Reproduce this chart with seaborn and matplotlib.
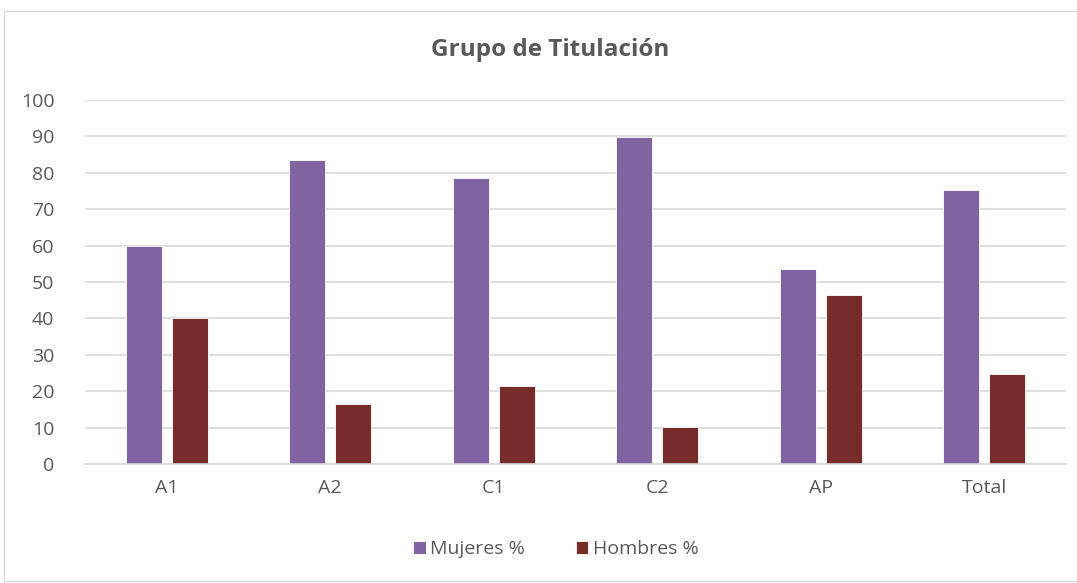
import matplotlib
matplotlib.use("Agg")
import matplotlib.pyplot as plt
import seaborn as sns
import pandas as pd
from matplotlib.patches import Rectangle

categories = ["A1", "A2", "C1", "C2", "AP", "Total"]
mujeres = [60.0, 83.6, 78.7, 89.8, 53.7, 75.4]
hombres = [40.0, 16.4, 21.3, 10.2, 46.3, 24.6]
series_names = ["Mujeres %", "Hombres %"]
yticks = [0, 10, 20, 30, 40, 50, 60, 70, 80, 90, 100]

df = pd.DataFrame({
    "cat": categories * 2,
    "val": mujeres + hombres,
    "serie": [series_names[0]] * len(categories) + [series_names[1]] * len(categories),
})

sns.set_theme(style="white")
plt.rcParams["font.family"] = ["Open Sans", "DejaVu Sans"]
text_color = "#595959"

fig = plt.figure(figsize=(10.77, 5.83), dpi=100)
ax = fig.add_axes([85/1077, 1-464/583, (1066-85)/1077, (464-100)/583])

sns.barplot(data=df, x="cat", y="val", hue="serie", order=categories,
            hue_order=series_names, palette=["#8064A2", "#772C2A"],
            width=0.565, gap=0.22, ax=ax, saturation=1, legend=True,
            linewidth=0.6, edgecolor="#FFFFFF")

ax.set_ylim(0, 100)
ax.set_yticks(yticks)
ax.set_xlim(-0.5, len(categories) - 0.5)
ax.yaxis.grid(True, color="#D9D9D9", linewidth=1.2)
ax.set_axisbelow(True)
for s in ["top", "right", "left"]:
    ax.spines[s].set_visible(False)
ax.spines["bottom"].set_color("#D9D9D9")
ax.spines["bottom"].set_linewidth(1.2)
ax.tick_params(axis="both", length=0, labelsize=14, colors=text_color)
ax.tick_params(axis="y", pad=22)
ax.tick_params(axis="x", pad=11)
ax.set_xlabel("")
ax.set_ylabel("")

fig.text(550/1077, 1-50/583, "Grupo de Titulación", ha="center", va="center",
         fontsize=17.5, fontweight="bold", color=text_color)

handles, labels = ax.get_legend_handles_labels()
ax.legend_.remove()
leg = fig.legend(handles, labels, loc="center", bbox_to_anchor=(556/1077, 1-549/583),
                 ncol=2, frameon=False, fontsize=14, handlelength=0.65, handleheight=0.65,
                 handletextpad=0.25, columnspacing=2.6)
for t in leg.get_texts():
    t.set_color(text_color)

fig.patches.append(Rectangle((4/1077, 2/583), 1 - 4/1077, 1 - 13/583, transform=fig.transFigure,
                             fill=False, edgecolor="#D9D9D9", linewidth=1))

fig.savefig("out.png", dpi=100)
